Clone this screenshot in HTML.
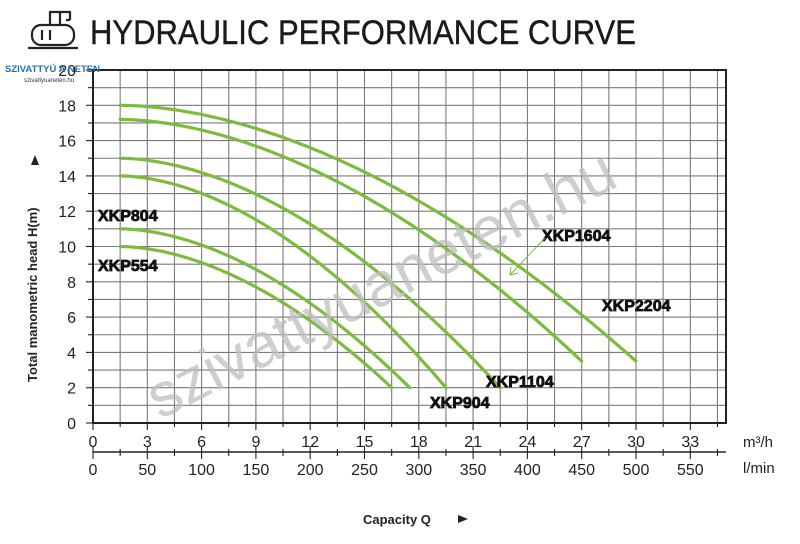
<!DOCTYPE html>
<html><head><meta charset="utf-8"><style>
html,body{margin:0;padding:0;background:#fff;width:800px;height:544px;overflow:hidden}
svg{display:block}
text{font-family:"Liberation Sans",Arial,sans-serif}
</style></head><body>
<svg id="s" width="800" height="544" viewBox="0 0 800 544" xmlns="http://www.w3.org/2000/svg">
<g id="grid" stroke="#7a7a7a" stroke-width="1.1"></g>
<rect x="93" y="70" width="633" height="353" fill="none" stroke="#222" stroke-width="2"/>
<g id="curves" fill="none" stroke="#7dbb3e" stroke-width="3.2" stroke-linecap="round"></g>
<g id="lab" font-size="16" fill="#222" text-anchor="end"></g>
<g id="xl" font-size="16" fill="#222" text-anchor="middle"></g>
<text x="90" y="44" font-size="34" fill="#1a1a1a" stroke="#1a1a1a" stroke-width="0.4" textLength="546" lengthAdjust="spacingAndGlyphs">HYDRAULIC PERFORMANCE CURVE</text>
<g fill="none" stroke="#222" stroke-width="2.2">
<rect x="32" y="25" width="42" height="20" rx="9"/>
<path d="M50 25 V12 h10 v13 M58 12 h12 v8 M70 20 h-4 M42 30v10 M50 30v10 M28 48 h50"/>
</g>
<text x="5" y="72" font-size="9.5" font-weight="bold" fill="#2a6fa8">SZIVATTYÚ A NETEN</text>
<text x="24" y="82" font-size="6" fill="#333">szivattyuaneten.hu</text>
<g font-size="16" font-weight="bold" fill="#111" stroke="#111" stroke-width="0.8">
<text x="98" y="221">XKP804</text>
<text x="98" y="271">XKP554</text>
<text x="542" y="241">XKP1604</text>
<text x="602" y="311">XKP2204</text>
<text x="486" y="387">XKP1104</text>
<text x="430" y="408">XKP904</text>
</g>
<path d="M545 238 L510 275 M510 275 l8 -2 M510 275 l1 -8" stroke="#7dbb3e" stroke-width="1" fill="none"/>
<g stroke="#222" stroke-width="1.5"><line x1="93" y1="452" x2="726" y2="452"/></g>
<text x="743" y="447" font-size="15" fill="#222">m³/h</text>
<text x="743" y="473" font-size="15" fill="#222">l/min</text>
<text x="363" y="524" font-size="13" font-weight="bold" fill="#222">Capacity Q</text>
<path d="M458 515 l10 4 l-10 4z" fill="#222"/>
<text transform="translate(37,382) rotate(-90)" font-size="13" font-weight="bold" fill="#222">Total manometric head H(m)</text>
<path d="M31 165 l4 -10 l4 10z" fill="#222"/>
<text transform="translate(160,420) rotate(-27)" font-size="62" fill="#bdbdbd" fill-opacity="0.75">szivattyuaneten.hu</text>
</svg>
<script>
var ns="http://www.w3.org/2000/svg";
function el(p,t,a,txt){var e=document.createElementNS(ns,t);for(var k in a)e.setAttribute(k,a[k]);if(txt!=null)e.textContent=txt;document.getElementById(p).appendChild(e);return e;}
var X=function(q){return 93+q*18.1},Y=function(h){return 423-h*17.65};
for(var i=1;i<=23;i++){var x=93+i*27.15;if(x<725)el("grid","line",{x1:x,y1:70,x2:x,y2:423});}
for(var h=1;h<20;h++){el("grid","line",{x1:93,y1:Y(h),x2:726,y2:Y(h)});}
for(var h=0;h<=20;h+=2){el("lab","text",{x:76,y:Y(h)+6},String(h));el("grid","line",{x1:86,y1:Y(h),x2:93,y2:Y(h),stroke:"#222"});}
for(var h=1;h<20;h+=2){el("grid","line",{x1:88,y1:Y(h),x2:93,y2:Y(h),stroke:"#222"});}
for(var i=0;i<=23;i++){var x=93+i*27.15;if(x>726)break;var big=i%2==0;
el("grid","line",{x1:x,y1:423,x2:x,y2:big?430:427,stroke:"#222"});
el("grid","line",{x1:x,y1:452,x2:x,y2:big?446:449,stroke:"#222"});
el("grid","line",{x1:x,y1:452,x2:x,y2:big?459:456,stroke:"#222"});
if(big&&i<=22){el("xl","text",{x:x,y:447},String(i*1.5));el("xl","text",{x:x,y:475},String(i*25));}}
var cs=[[18,30,3.5],[17.2,27,3.5],[15,22.5,2],[14,19.5,2],[11,17.5,2],[10,16.5,2]];
cs.forEach(function(c){var d="",p=1.8,k=(c[0]-c[2])/Math.pow(c[1]-1.5,p);
for(var q=1.5;q<=c[1]+0.001;q+=0.25){var hh=c[0]-k*Math.pow(q-1.5,p);d+=(d?"L":"M")+X(q).toFixed(1)+" "+Y(hh).toFixed(1);}
el("curves","path",{d:d});});
</script>
</body></html>
